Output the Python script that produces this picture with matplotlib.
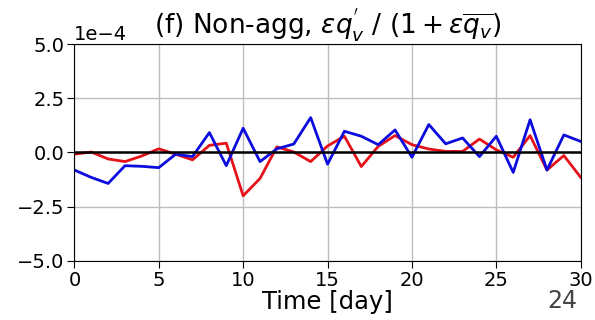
import matplotlib.pyplot as plt
import numpy as np

days = np.arange(0, 31)

# perturbation series, in units of 1e-4
red_vals = [-0.08, 0.02, -0.30, -0.42, -0.16, 0.17, -0.08, -0.34, 0.33, 0.43,
            -2.00, -1.20, 0.26, 0.02, -0.42, 0.30, 0.75, -0.65, 0.28, 0.78,
            0.36, 0.16, 0.05, 0.05, 0.62, 0.12, -0.22, 0.78, -0.81, -0.14,
            -1.15]
blue_vals = [-0.81, -1.15, -1.43, -0.61, -0.64, -0.70, -0.08, -0.19, 0.92, -0.61,
             1.12, -0.42, 0.17, 0.39, 1.61, -0.54, 0.98, 0.75, 0.36, 1.04,
             -0.22, 1.29, 0.40, 0.67, -0.19, 0.75, -0.92, 1.51, -0.81, 0.81,
             0.51]

red = np.array(red_vals) * 1e-4
blue = np.array(blue_vals) * 1e-4

fig = plt.figure(figsize=(5.95, 3.2), dpi=100)
ax = fig.add_axes([0.125, 0.185, 0.851, 0.677])

ax.plot(days, red, color="#e5121a", lw=2.0)
ax.plot(days, blue, color="#0c0cdc", lw=2.0)
ax.axhline(0, color="black", lw=1.8)

ax.set_xlim(0, 30)
ax.set_ylim(-5e-4, 5e-4)
ax.set_xticks([0, 5, 10, 15, 20, 25, 30])
ax.set_yticks([-5e-4, -2.5e-4, 0, 2.5e-4, 5e-4])
ax.ticklabel_format(axis="y", style="sci", scilimits=(0, 0))
ax.grid(True, color="#bdbdbd", lw=1.0)
ax.tick_params(labelsize=14, length=5, pad=2)
ax.yaxis.get_offset_text().set_fontsize(14)

ax.set_title(r"(f) Non-agg, $\varepsilon q_v^{'}$ / $(1 + \varepsilon\overline{q_v})$",
             fontsize=19, pad=3)
ax.set_xlabel("Time [day]", fontsize=17.5, labelpad=0)

fig.text(0.919, 0.037, "24", fontsize=17, color="#444444")

fig.savefig("out.png", dpi=100)
